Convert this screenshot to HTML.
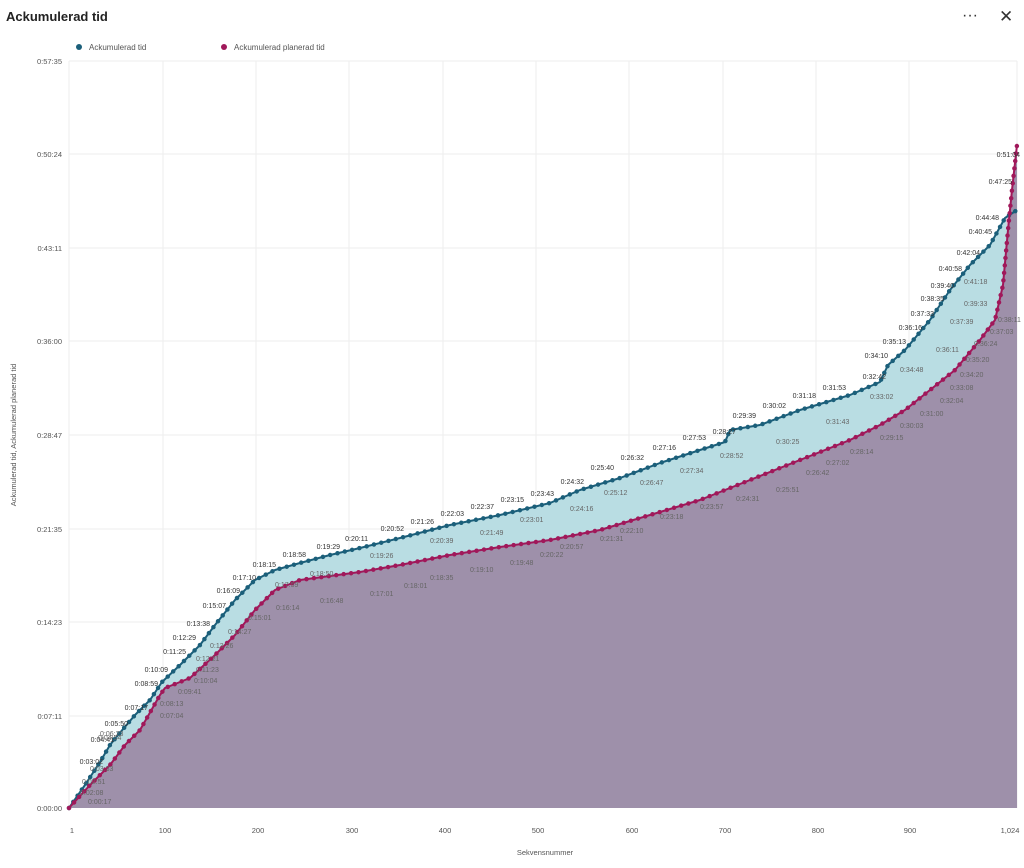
<!DOCTYPE html>
<html><head><meta charset="utf-8"><style>
body{margin:0;background:#fff;width:1024px;height:863px;overflow:hidden;font-family:"Liberation Sans",sans-serif}
svg text{font-family:"Liberation Sans",sans-serif}
</style></head><body>
<svg width="1024" height="863" viewBox="0 0 1024 863" xmlns="http://www.w3.org/2000/svg">
<text x="6" y="21" font-size="13" font-weight="bold" fill="#222">Ackumulerad tid</text>
<text x="962" y="20" font-size="16" fill="#333">···</text>
<text x="999" y="22" font-size="17" fill="#333">✕</text>
<circle cx="79" cy="47" r="3" fill="#1b5f7a"/><text x="89" y="50" font-size="8" fill="#555">Ackumulerad tid</text>
<circle cx="224" cy="47" r="3" fill="#a0185a"/><text x="234" y="50" font-size="8" fill="#555">Ackumulerad planerad tid</text>
<g stroke="#eee" stroke-width="1">
<line x1="69" y1="61" x2="69" y2="808"/><line x1="163" y1="61" x2="163" y2="808"/><line x1="256" y1="61" x2="256" y2="808"/><line x1="349" y1="61" x2="349" y2="808"/><line x1="443" y1="61" x2="443" y2="808"/><line x1="536" y1="61" x2="536" y2="808"/><line x1="629" y1="61" x2="629" y2="808"/><line x1="723" y1="61" x2="723" y2="808"/><line x1="816" y1="61" x2="816" y2="808"/><line x1="909" y1="61" x2="909" y2="808"/><line x1="1017" y1="61" x2="1017" y2="808"/>
<line x1="69" y1="61" x2="1017" y2="61"/><line x1="69" y1="154" x2="1017" y2="154"/><line x1="69" y1="248" x2="1017" y2="248"/><line x1="69" y1="341" x2="1017" y2="341"/><line x1="69" y1="435" x2="1017" y2="435"/><line x1="69" y1="529" x2="1017" y2="529"/><line x1="69" y1="622" x2="1017" y2="622"/><line x1="69" y1="716" x2="1017" y2="716"/>
</g>
<g font-size="7.5" fill="#555" text-anchor="end">
<text x="62" y="64">0:57:35</text><text x="62" y="157">0:50:24</text><text x="62" y="251">0:43:11</text><text x="62" y="344">0:36:00</text><text x="62" y="438">0:28:47</text><text x="62" y="532">0:21:35</text><text x="62" y="625">0:14:23</text><text x="62" y="719">0:07:11</text><text x="62" y="811">0:00:00</text>
</g>
<g font-size="7.5" fill="#555" text-anchor="middle">
<text x="72" y="833">1</text><text x="165" y="833">100</text><text x="258" y="833">200</text><text x="352" y="833">300</text><text x="445" y="833">400</text><text x="538" y="833">500</text><text x="632" y="833">600</text><text x="725" y="833">700</text><text x="818" y="833">800</text><text x="910" y="833">900</text><text x="1010" y="833">1,024</text>
<text x="545" y="855">Sekvensnummer</text>
<text transform="translate(16,435) rotate(-90)">Ackumulerad tid, Ackumulerad planerad tid</text>
</g>
<!-- light blue between -->
<polygon fill="#b9dde3" points="69,808 85,785 100,762 110,745 118,735 135,715 150,700 162,682 180,665 200,645 215,625 235,600 255,580 275,570 300,563 330,555 360,548 400,538 450,525 500,515 550,503 580,490 620,478 660,463 700,450 725,442 730,430 760,425 800,410 850,395 880,382 888,365 905,350 930,320 950,290 970,265 990,245 1005,218 1017,210 1017,808"/>
<polygon fill="#e6c6d8" points="1005,218 1008,230 1012,190 1017,145 1017,210"/>
<polygon fill="#9e90aa" points="69,808 90,785 110,765 125,745 140,730 160,695 165,688 190,678 215,655 235,635 255,610 275,590 300,580 330,576 360,572 400,565 450,555 500,547 550,540 600,530 650,515 700,500 750,480 800,460 850,440 880,425 905,410 930,390 955,370 980,340 995,320 1003,285 1008,230 1012,190 1017,145 1017,808"/>
<g fill="none" stroke-linejoin="round">
<polyline id="b" stroke="#1b5f7a" stroke-width="2" points="69,808 85,785 100,762 110,745 118,735 135,715 150,700 162,682 180,665 200,645 215,625 235,600 255,580 275,570 300,563 330,555 360,548 400,538 450,525 500,515 550,503 580,490 620,478 660,463 700,450 725,442 730,430 760,425 800,410 850,395 880,382 888,365 905,350 930,320 950,290 970,265 990,245 1005,218 1017,210"/>
<polyline stroke="#1b5f7a" stroke-width="4.5" stroke-linecap="round" stroke-dasharray="0 7.5" points="69,808 85,785 100,762 110,745 118,735 135,715 150,700 162,682 180,665 200,645 215,625 235,600 255,580 275,570 300,563 330,555 360,548 400,538 450,525 500,515 550,503 580,490 620,478 660,463 700,450 725,442 730,430 760,425 800,410 850,395 880,382 888,365 905,350 930,320 950,290 970,265 990,245 1005,218 1017,210"/>
<polyline stroke="#a0185a" stroke-width="2" points="69,808 90,785 110,765 125,745 140,730 160,695 165,688 190,678 215,655 235,635 255,610 275,590 300,580 330,576 360,572 400,565 450,555 500,547 550,540 600,530 650,515 700,500 750,480 800,460 850,440 880,425 905,410 930,390 955,370 980,340 995,320 1003,285 1008,230 1012,190 1017,145"/>
<polyline stroke="#a0185a" stroke-width="4.5" stroke-linecap="round" stroke-dasharray="0 7.5" points="69,808 90,785 110,765 125,745 140,730 160,695 165,688 190,678 215,655 235,635 255,610 275,590 300,580 330,576 360,572 400,565 450,555 500,547 550,540 600,530 650,515 700,500 750,480 800,460 850,440 880,425 905,410 930,390 955,370 980,340 995,320 1003,285 1008,230 1012,190 1017,145"/>
</g>
<g font-size="7" fill="#333" text-anchor="end">
<text x="103" y="764">0:03:02</text><text x="114" y="742">0:04:41</text><text x="128" y="726">0:05:50</text><text x="148" y="710">0:07:17</text><text x="158" y="686">0:08:59</text><text x="168" y="672">0:10:09</text><text x="186" y="654">0:11:25</text><text x="196" y="640">0:12:29</text><text x="210" y="626">0:13:38</text><text x="226" y="608">0:15:07</text><text x="240" y="593">0:16:09</text><text x="256" y="580">0:17:10</text><text x="276" y="567">0:18:15</text><text x="306" y="557">0:18:58</text><text x="340" y="549">0:19:29</text><text x="368" y="541">0:20:11</text><text x="404" y="531">0:20:52</text><text x="434" y="524">0:21:26</text><text x="464" y="516">0:22:03</text><text x="494" y="509">0:22:37</text><text x="524" y="502">0:23:15</text><text x="554" y="496">0:23:43</text><text x="584" y="484">0:24:32</text><text x="614" y="470">0:25:40</text><text x="644" y="460">0:26:32</text><text x="676" y="450">0:27:16</text><text x="706" y="440">0:27:53</text><text x="736" y="434">0:28:27</text><text x="756" y="418">0:29:39</text><text x="786" y="408">0:30:02</text><text x="816" y="398">0:31:18</text><text x="846" y="390">0:31:53</text><text x="886" y="379">0:32:42</text><text x="888" y="358">0:34:10</text><text x="906" y="344">0:35:13</text><text x="922" y="330">0:36:16</text><text x="934" y="316">0:37:33</text><text x="944" y="301">0:38:35</text><text x="954" y="288">0:39:40</text><text x="962" y="271">0:40:58</text><text x="980" y="255">0:42:04</text><text x="992" y="234">0:40:45</text><text x="999" y="220">0:44:48</text><text x="1012" y="184">0:47:25</text><text x="1020" y="157">0:51:04</text>
</g>
<g font-size="7" fill="#666">
<text x="88" y="804">0:00:17</text><text x="80" y="795">0:02:08</text><text x="82" y="784">0:02:51</text><text x="90" y="771">0:03:33</text><text x="98" y="740">0:04:54</text><text x="100" y="736">0:06:23</text><text x="160" y="718">0:07:04</text><text x="160" y="706">0:08:13</text><text x="178" y="694">0:09:41</text><text x="194" y="683">0:10:04</text><text x="196" y="672">0:11:23</text><text x="196" y="661">0:12:21</text><text x="210" y="648">0:13:26</text><text x="228" y="634">0:14:27</text><text x="248" y="620">0:15:01</text><text x="276" y="610">0:16:14</text><text x="275" y="587">0:17:59</text><text x="310" y="576">0:18:50</text><text x="320" y="603">0:16:48</text><text x="370" y="596">0:17:01</text><text x="404" y="588">0:18:01</text><text x="430" y="580">0:18:35</text><text x="470" y="572">0:19:10</text><text x="510" y="565">0:19:48</text><text x="540" y="557">0:20:22</text><text x="560" y="549">0:20:57</text><text x="600" y="541">0:21:31</text><text x="620" y="533">0:22:10</text><text x="660" y="519">0:23:18</text><text x="700" y="509">0:23:57</text><text x="736" y="501">0:24:31</text><text x="776" y="492">0:25:51</text><text x="806" y="475">0:26:42</text><text x="826" y="465">0:27:02</text><text x="850" y="454">0:28:14</text><text x="880" y="440">0:29:15</text><text x="900" y="428">0:30:03</text><text x="920" y="416">0:31:00</text><text x="940" y="403">0:32:04</text><text x="950" y="390">0:33:08</text><text x="960" y="377">0:34:20</text><text x="966" y="362">0:35:20</text><text x="974" y="346">0:36:24</text><text x="990" y="334">0:37:03</text><text x="998" y="322">0:38:11</text>
<text x="370" y="558">0:19:26</text><text x="430" y="543">0:20:39</text><text x="480" y="535">0:21:49</text><text x="520" y="522">0:23:01</text><text x="570" y="511">0:24:16</text><text x="604" y="495">0:25:12</text><text x="640" y="485">0:26:47</text><text x="680" y="473">0:27:34</text><text x="720" y="458">0:28:52</text><text x="776" y="444">0:30:25</text><text x="826" y="424">0:31:43</text><text x="870" y="399">0:33:02</text><text x="900" y="372">0:34:48</text><text x="936" y="352">0:36:11</text><text x="950" y="324">0:37:39</text><text x="964" y="306">0:39:33</text><text x="964" y="284">0:41:18</text>
</g>
</svg>
</body></html>
